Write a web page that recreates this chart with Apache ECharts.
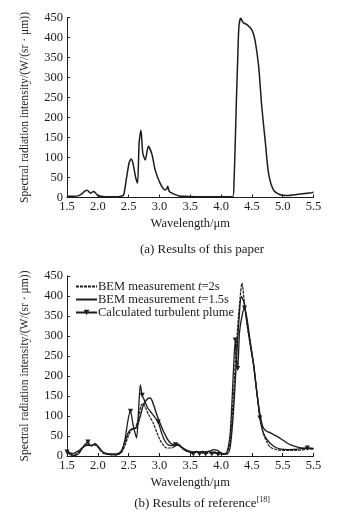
<!DOCTYPE html>
<html>
<head>
<meta charset="utf-8">
<script src="https://cdn.jsdelivr.net/npm/echarts@6/dist/echarts.min.js"></script>
<style>
  html, body { margin: 0; padding: 0; background: #ffffff; }
  #chart { width: 340px; height: 516px; }
</style>
</head>
<body>
<div id="chart"></div>
<script>
// ---- (a) spectral intensity computed in this paper ----
const paperWl = [1.50, 1.60, 1.68, 1.74, 1.79, 1.83, 1.88, 1.93, 1.96, 2.00, 2.05, 2.12, 2.22, 2.32, 2.38, 2.42, 2.47, 2.51, 2.54, 2.57, 2.61, 2.645, 2.67, 2.70, 2.73, 2.77, 2.82, 2.88, 2.93, 3.01, 3.09, 3.12, 3.135, 3.16, 3.23, 3.32, 3.40, 3.60, 3.80, 4.00, 4.19, 4.21, 4.23, 4.25, 4.27, 4.29, 4.32, 4.36, 4.42, 4.50, 4.55, 4.61, 4.66, 4.72, 4.77, 4.85, 4.96, 5.07, 5.25, 5.47, 5.50];
const paperVal = [3, 3, 4, 9, 16, 18, 11, 15, 12, 5, 3, 2, 2, 2, 3, 7, 53, 88, 96, 86, 53, 36, 136, 168, 111, 94, 128, 107, 69, 36, 19, 22, 28, 15, 9, 4, 3, 2, 2, 2, 2, 40, 136, 250, 344, 428, 448, 437, 432, 419, 394, 328, 228, 136, 61, 19, 7, 5, 8, 12, 13];

// ---- (b) reference data: BEM measurement t=2s ----
const bem2Wl = [1.50, 1.55, 1.60, 1.65, 1.70, 1.75, 1.80, 1.85, 1.90, 1.95, 2.00, 2.05, 2.10, 2.20, 2.30, 2.38, 2.45, 2.50, 2.55, 2.60, 2.65, 2.70, 2.73, 2.77, 2.82, 2.90, 2.96, 3.01, 3.06, 3.12, 3.20, 3.26, 3.32, 3.38, 3.45, 3.55, 3.65, 3.75, 3.85, 3.95, 4.05, 4.10, 4.15, 4.20, 4.25, 4.30, 4.34, 4.37, 4.42, 4.48, 4.53, 4.58, 4.63, 4.68, 4.74, 4.80, 4.90, 5.00, 5.10, 5.20, 5.30, 5.40, 5.50];
const bem2Val = [8, 5, 2, 5, 12, 22, 28, 30, 25, 28, 22, 12, 6, 3, 3, 8, 30, 52, 66, 68, 90, 125, 131, 122, 105, 82, 58, 40, 28, 20, 20, 26, 27, 18, 12, 10, 8, 7, 8, 6, 5, 10, 40, 150, 280, 380, 432, 395, 330, 270, 225, 160, 100, 60, 36, 22, 16, 14, 14, 14, 15, 17, 18];

// ---- (b) reference data: BEM measurement t=1.5s ----
const bem15Wl = [1.50, 1.55, 1.60, 1.65, 1.70, 1.75, 1.80, 1.85, 1.90, 1.95, 2.00, 2.05, 2.10, 2.20, 2.30, 2.38, 2.45, 2.50, 2.55, 2.62, 2.68, 2.74, 2.80, 2.85, 2.90, 2.96, 3.02, 3.07, 3.13, 3.18, 3.24, 3.30, 3.36, 3.45, 3.55, 3.65, 3.75, 3.82, 3.88, 3.94, 4.00, 4.05, 4.10, 4.15, 4.20, 4.25, 4.29, 4.33, 4.37, 4.42, 4.48, 4.53, 4.58, 4.63, 4.68, 4.74, 4.80, 4.86, 4.92, 5.00, 5.10, 5.20, 5.30, 5.40, 5.50];
const bem15Val = [12, 8, 6, 10, 14, 20, 26, 27, 26, 30, 25, 15, 8, 5, 5, 12, 40, 60, 68, 70, 95, 128, 142, 145, 130, 102, 78, 60, 42, 32, 28, 30, 22, 14, 10, 10, 10, 12, 16, 14, 8, 5, 5, 25, 110, 240, 340, 398, 385, 335, 275, 225, 160, 105, 72, 62, 58, 53, 48, 40, 30, 24, 20, 19, 18];

// ---- (b) reference data: calculated turbulent plume ----
const plumeWl = [1.50, 1.55, 1.60, 1.65, 1.70, 1.75, 1.80, 1.84, 1.88, 1.92, 1.96, 2.00, 2.05, 2.10, 2.20, 2.30, 2.38, 2.44, 2.49, 2.53, 2.57, 2.60, 2.63, 2.66, 2.69, 2.72, 2.76, 2.81, 2.87, 2.93, 2.98, 3.03, 3.08, 3.14, 3.20, 3.26, 3.32, 3.38, 3.44, 3.50, 3.55, 3.60, 3.65, 3.70, 3.75, 3.80, 3.85, 3.90, 3.95, 4.00, 4.05, 4.10, 4.15, 4.20, 4.23, 4.25, 4.27, 4.30, 4.34, 4.38, 4.42, 4.47, 4.53, 4.58, 4.63, 4.68, 4.75, 4.85, 4.95, 5.10, 5.25, 5.40, 5.50];
const plumeVal = [10, 4, 1, 2, 8, 20, 30, 35, 26, 28, 30, 24, 14, 8, 4, 3, 10, 40, 90, 112, 80, 60, 45, 110, 178, 152, 138, 120, 108, 96, 85, 60, 40, 28, 26, 28, 26, 18, 12, 9, 5, 12, 5, 12, 5, 12, 5, 10, 4, 6, 4, 12, 60, 210, 290, 245, 219, 310, 350, 370, 345, 290, 227, 160, 95, 60, 40, 25, 18, 16, 17, 20, 19];
// wavelengths carrying a triangle marker on the calculated curve
const plumeMarkWl = [1.50, 1.84, 2.53, 2.72, 2.98, 3.26, 3.55, 3.65, 3.75, 3.85, 3.95, 4.23, 4.27, 4.38, 4.63, 5.40];

// ---- axis tick labels ----
const ticksA = ['1.5', '2.0', '2.5', '3.0', '3.5', '4.0', '4.5', '5.0', '5.5'];
const ticksB = ['1.5', '2.0', '2.5', '3.0', '3.5', '4.0', '4.5', '5.5', '5.5'];

const pairs = (xs, ys) => xs.map((x, i) => [x, ys[i]]);
const ink = '#1c1c1c';
const serif = '"Liberation Serif", "DejaVu Serif", serif';

function xAxisFor(gridIndex, labels) {
  return {
    type: 'value', gridIndex, min: 1.5, max: 5.5, interval: 0.5,
    name: 'Wavelength/\u03bcm', nameLocation: 'middle', nameGap: 20,
    nameTextStyle: { fontFamily: serif, fontSize: 12.5, color: ink },
    axisLine: { show: true, lineStyle: { color: ink, width: 1 } },
    axisTick: { show: true, inside: true, length: 3, lineStyle: { color: ink } },
    axisLabel: {
      fontFamily: serif, fontSize: 12.5, color: ink, margin: 3,
      formatter: v => labels[Math.round((v - 1.5) / 0.5)]
    },
    splitLine: { show: false }
  };
}
function yAxisFor(gridIndex) {
  return {
    type: 'value', gridIndex, min: 0, max: 450, interval: 50,
    name: 'Spectral radiation intensity/(W/(sr \u00b7 \u03bcm))',
    nameLocation: 'middle', nameRotate: 90, nameGap: 36,
    nameTextStyle: { fontFamily: serif, fontSize: 11.6, color: ink },
    axisLine: { show: true, lineStyle: { color: ink, width: 1 } },
    axisTick: { show: true, inside: true, length: 3, lineStyle: { color: ink } },
    axisLabel: { fontFamily: serif, fontSize: 12.5, color: ink, margin: 4 },
    splitLine: { show: false }
  };
}

const plumeData = plumeWl.map((x, i) => {
  const marked = plumeMarkWl.includes(x);
  return { value: [x, plumeVal[i]], symbol: marked ? 'triangle' : 'none' };
});

// legend entries: plain line icons for the two measurements
const hiddenMark = { opacity: 0 };

const chart = echarts.init(document.getElementById('chart'), null, { renderer: 'canvas' });
chart.setOption({
  backgroundColor: '#ffffff',
  animation: false,
  grid: [
    { left: 67, top: 17.5, width: 246.5, height: 180 },
    { left: 67, top: 276, width: 246.5, height: 180 }
  ],
  xAxis: [xAxisFor(0, ticksA), xAxisFor(1, ticksB)],
  yAxis: [yAxisFor(0), yAxisFor(1)],
  legend: {
    left: 70, top: 275, orient: 'vertical',
    itemWidth: 21, itemHeight: 7, itemGap: 0,
    textStyle: {
      fontFamily: serif, fontSize: 12.5, color: ink, lineHeight: 13, padding: [0, 0, 0, -4],
      rich: { i: { fontFamily: serif, fontSize: 12.5, lineHeight: 13, fontStyle: 'italic', color: ink } }
    },
    formatter: name => {
      if (name === 'BEM measurement t=2s') return 'BEM measurement {i|t}=2s';
      if (name === 'BEM measurement t=1.5s') return 'BEM measurement {i|t}=1.5s';
      return name;
    },
    data: [
      { name: 'BEM measurement t=2s', itemStyle: hiddenMark },
      { name: 'BEM measurement t=1.5s', itemStyle: hiddenMark },
      { name: 'Calculated turbulent plume' }
    ]
  },
  title: [
    {
      text: '(a) Results of this paper', left: 197, top: 238, textAlign: 'center',
      textStyle: { fontFamily: serif, fontSize: 13, fontWeight: 'normal', color: ink }
    },
    {
      text: '(b) Results of reference{sup|[18]}', left: 197, top: 491, textAlign: 'center',
      textStyle: {
        fontFamily: serif, fontSize: 13, fontWeight: 'normal', color: ink,
        rich: { sup: { fontFamily: serif, fontSize: 8, color: ink, verticalAlign: 'top', padding: [0, 0, 8, 0] } }
      }
    }
  ],
  series: [
    {
      name: 'paper', type: 'line', xAxisIndex: 0, yAxisIndex: 0,
      data: pairs(paperWl, paperVal), smooth: 0.25, showSymbol: false,
      lineStyle: { color: ink, width: 1.5 }
    },
    {
      name: 'BEM measurement t=2s', type: 'line', xAxisIndex: 1, yAxisIndex: 1,
      data: pairs(bem2Wl, bem2Val), smooth: 0.3, showSymbol: false, symbol: 'none',
      itemStyle: { color: ink },
      lineStyle: { color: ink, width: 1.2, type: [3, 1] }
    },
    {
      name: 'BEM measurement t=1.5s', type: 'line', xAxisIndex: 1, yAxisIndex: 1,
      data: pairs(bem15Wl, bem15Val), smooth: 0.3, showSymbol: false, symbol: 'none',
      itemStyle: { color: ink },
      lineStyle: { color: ink, width: 1.4 }
    },
    {
      name: 'Calculated turbulent plume', type: 'line', xAxisIndex: 1, yAxisIndex: 1,
      data: plumeData, smooth: 0.25, showSymbol: true, symbol: 'triangle',
      symbolSize: 5, symbolRotate: 180,
      itemStyle: { color: ink, borderWidth: 0 },
      lineStyle: { color: ink, width: 1.3 }
    }
  ]
});
</script>
</body>
</html>
